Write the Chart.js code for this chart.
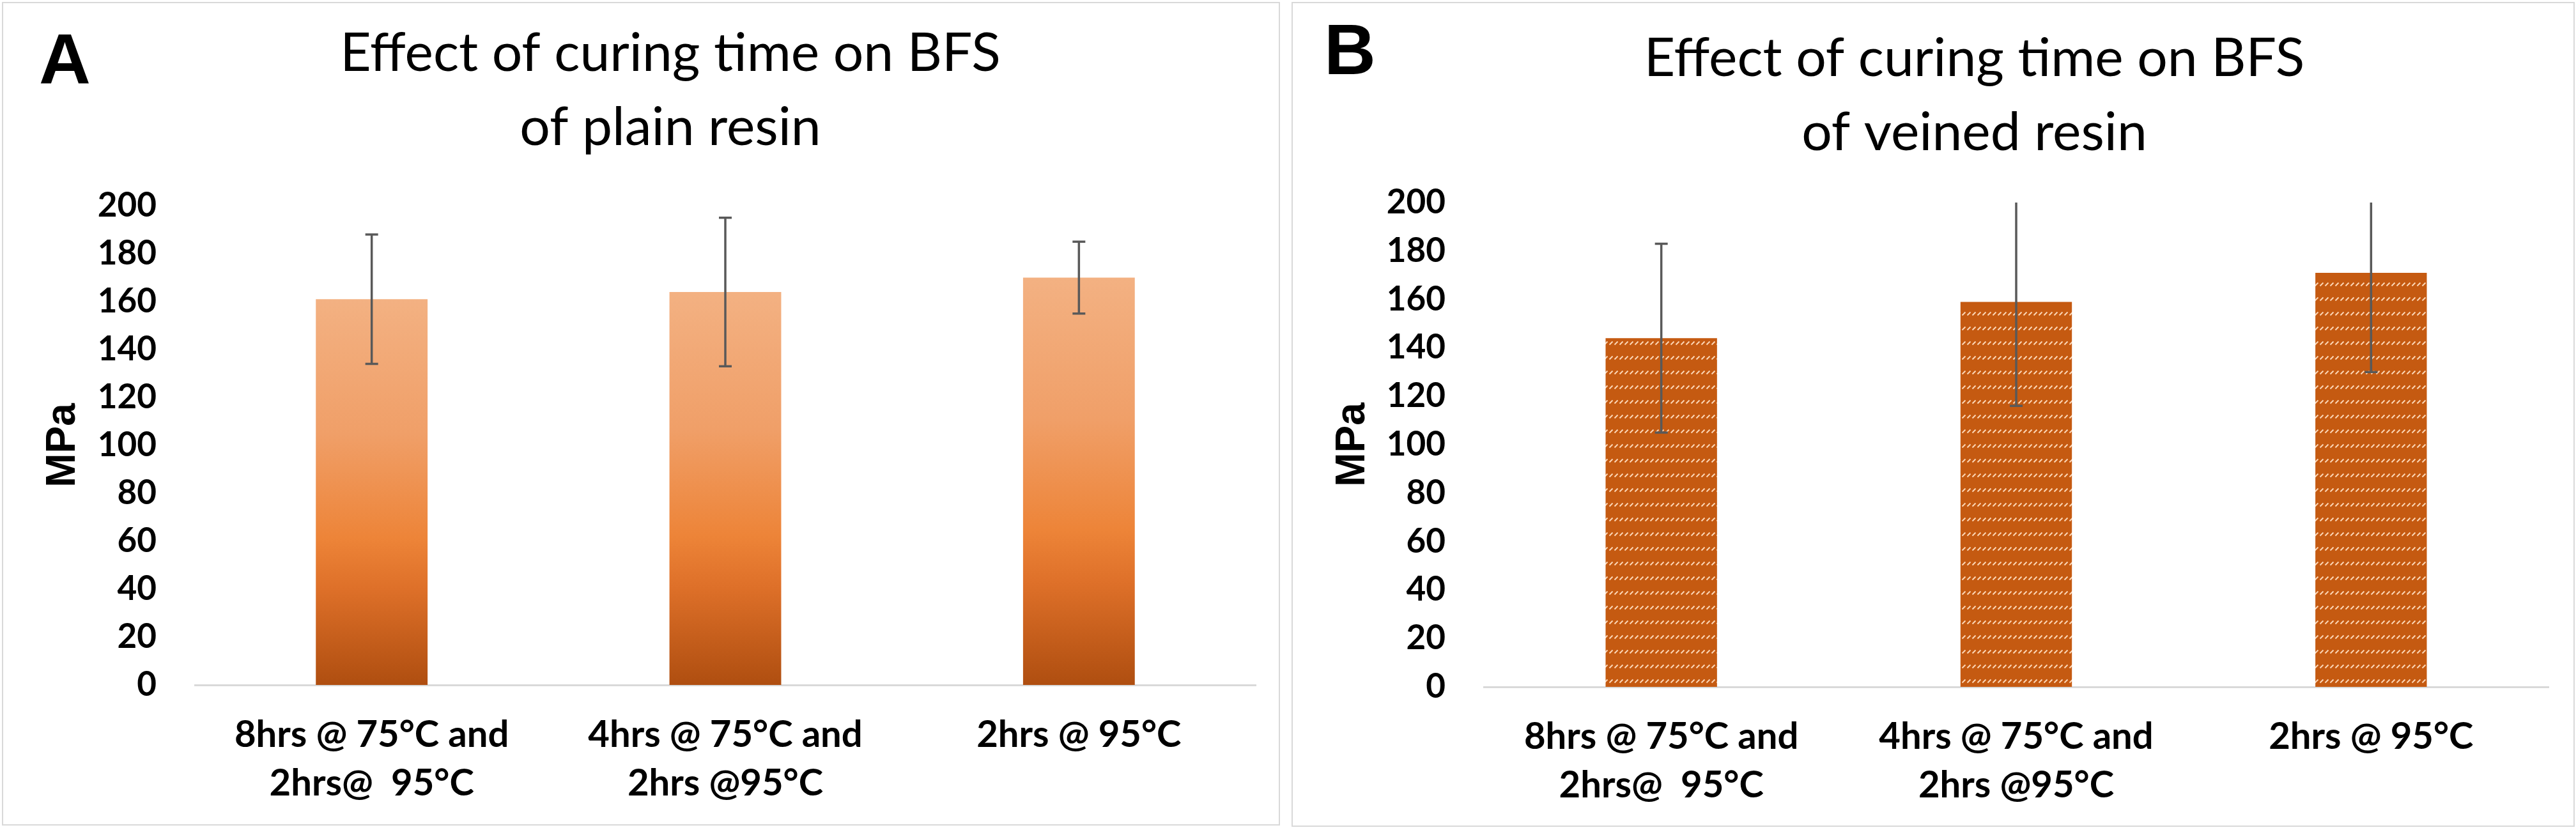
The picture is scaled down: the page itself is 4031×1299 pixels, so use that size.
<!DOCTYPE html>
<html>
<head>
<meta charset="utf-8">
<script src="https://cdn.jsdelivr.net/npm/chart.js@4.4.0/dist/chart.umd.min.js"></script>
<style>
html,body{margin:0;padding:0;background:#fff;width:4031px;height:1299px;overflow:hidden;}
.panel{position:absolute;background:#fff;}
.panel .wrap{position:absolute;left:0;top:0;width:100%;height:100%;}
.panel .frame{position:absolute;left:0;top:0;right:0;bottom:0;border:2px solid #d9d9d9;box-sizing:border-box;pointer-events:none;}
.letter{position:absolute;font-family:'Liberation Sans',Arial,sans-serif;font-weight:bold;font-size:112px;line-height:112px;color:#000;}
</style>
</head>
<body>
<div class="panel" style="left:3px;top:3px;width:2000px;height:1289px;">
  <div class="wrap"><canvas id="chartA"></canvas></div>
  <div class="frame"></div>
  <div class="letter" style="left:58px;top:34px;">A</div>
</div>
<div class="panel" style="left:2021px;top:3px;width:2008px;height:1291px;">
  <div class="wrap"><canvas id="chartB"></canvas></div>
  <div class="frame"></div>
  <div class="letter" style="left:51px;top:19px;">B</div>
</div>
<script>
// ---- data ----
const categories = [["8hrs @ 75°C and", "2hrs@  95°C"], ["4hrs @ 75°C and", "2hrs @95°C"], "2hrs @ 95°C"];
const plainMeans = [161, 164, 170];
const plainErrors = [27, 31, 15];
const veinedMeans = [144, 159, 171];
const veinedErrors = [39, 43, 41];
const titleA = ["Effect of curing time on BFS", "of plain resin"];
const titleB = ["Effect of curing time on BFS", "of veined resin"];
const yAxisLabel = "MPa";
const yMin = 0, yMax = 200, yStep = 20;

// ---- plugins ----
const errorBars = {
  id: 'errorBars',
  afterDatasetsDraw(chart, args, opts) {
    const errs = opts.errors;
    if (!errs) return;
    const meta = chart.getDatasetMeta(0);
    const ys = chart.scales.y;
    const area = chart.chartArea;
    const vals = chart.data.datasets[0].data;
    const c = chart.ctx;
    const hw = opts.cap;
    c.save();
    c.strokeStyle = opts.color;
    c.lineWidth = opts.width;
    meta.data.forEach((bar, i) => {
      const yt = ys.getPixelForValue(vals[i] + errs[i]);
      const yb = ys.getPixelForValue(vals[i] - errs[i]);
      c.beginPath();
      c.moveTo(bar.x, Math.max(yt, area.top));
      c.lineTo(bar.x, yb);
      if (yt >= area.top) { c.moveTo(bar.x - hw, yt); c.lineTo(bar.x + hw, yt); }
      c.moveTo(bar.x - hw, yb); c.lineTo(bar.x + hw, yb);
      c.stroke();
    });
    c.restore();
  }
};
const titleShift = {
  id: 'titleShift',
  afterLayout(chart, args, opts) {
    const t = chart.titleBlock;
    if (t && opts.dx) { t.left += opts.dx; t.right += opts.dx; }
  }
};

function plainFill(ctx) {
  const chart = ctx.chart;
  if (!chart.chartArea || ctx.type !== 'data') return '#ED7D31';
  const ys = chart.scales.y;
  const top = ys.getPixelForValue(ctx.raw);
  const bot = ys.getPixelForValue(0);
  const g = chart.ctx.createLinearGradient(0, top, 0, bot);
  g.addColorStop(0, '#F3B182');
  g.addColorStop(0.35, '#F09F68');
  g.addColorStop(0.62, '#ED8438');
  g.addColorStop(0.75, '#DE7029');
  g.addColorStop(1, '#AF4E10');
  return g;
}

let veinPattern = null;
function veinFill(ctx) {
  if (!veinPattern) {
    const t = document.createElement('canvas');
    t.width = 8; t.height = 23;
    const g = t.getContext('2d');
    g.fillStyle = '#C55A11';
    g.fillRect(0, 0, 8, 23);
    g.strokeStyle = 'rgba(255,222,192,0.95)';
    g.lineWidth = 1.9;
    g.lineCap = 'butt';
    g.beginPath(); g.moveTo(1.5, 7.5); g.lineTo(6.5, 2.5); g.stroke();
    veinPattern = ctx.chart.ctx.createPattern(t, 'repeat');
  }
  return veinPattern;
}

function makeChart(id, title, means, errors, fill, cfg) {
  return new Chart(document.getElementById(id), {
    type: 'bar',
    data: {
      labels: categories,
      datasets: [{ data: means, backgroundColor: fill, borderWidth: 0, barPercentage: cfg.barPct, categoryPercentage: 1 }]
    },
    options: {
      responsive: true, maintainAspectRatio: false, devicePixelRatio: 1, animation: false,
      layout: { padding: { left: 0, right: cfg.padRight, top: 0, bottom: 0 } },
      plugins: {
        legend: { display: false },
        tooltip: { enabled: false },
        title: {
          display: true, text: title, color: '#000',
          font: { family: 'Lato', size: 84, weight: 'normal', lineHeight: 1.381 },
          padding: { top: cfg.titleTop, bottom: cfg.titleBottom }
        },
        errorBars: { errors: errors, color: '#595959', width: 3.5, cap: 10 },
        titleShift: { dx: cfg.titleDx }
      },
      scales: {
        x: {
          grid: { display: false, drawTicks: false },
          border: { display: true, color: '#d9d9d9', width: 3 },
          ticks: { color: '#000', font: { family: 'Lato', weight: 'bold', size: 58, lineHeight: 1.31 }, padding: 40, maxRotation: 0, autoSkip: false },
          afterFit(s) { s.height = cfg.xHeight; }
        },
        y: {
          min: yMin, max: yMax,
          ticks: { stepSize: yStep, color: '#000', font: { family: 'Lato', weight: 'bold', size: 53 }, padding: 60 },
          grid: { display: false, drawTicks: false },
          border: { display: false },
          title: { display: true, text: yAxisLabel, color: '#000', font: { family: 'Liberation Sans', weight: 'bold', size: 64, lineHeight: 1.2 }, padding: { top: 58, bottom: 0 } },
          afterFit(s) { s.width = cfg.yWidth; }
        }
      }
    },
    plugins: [errorBars, titleShift]
  });
}

makeChart('chartA', titleA, plainMeans, plainErrors, plainFill,
  { barPct: 0.316, padRight: 38, titleTop: 23, titleBottom: 64, titleDx: 65, xHeight: 220, yWidth: 302 });
makeChart('chartB', titleB, veinedMeans, veinedErrors, veinFill,
  { barPct: 0.314, padRight: 41, titleTop: 31, titleBottom: 51, titleDx: 85, xHeight: 219, yWidth: 301 });
</script>
</body>
</html>
